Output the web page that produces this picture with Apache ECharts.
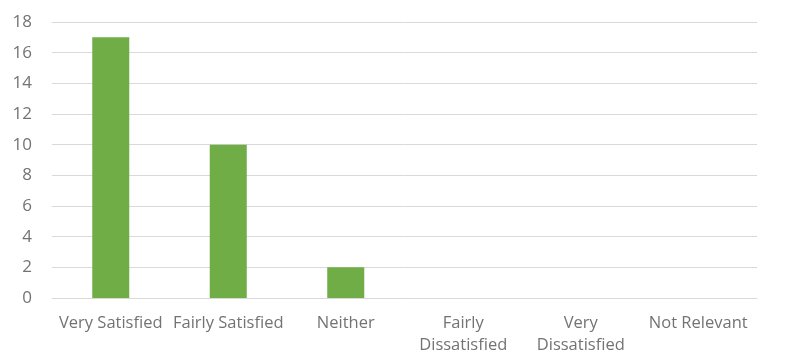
<!DOCTYPE html>
<html lang="en">
  <head>
    <meta charset="UTF-8" />
    <script src="https://cdn.jsdelivr.net/npm/echarts@6/dist/echarts.min.js"></script>
    <title>Satisfaction</title>
  </head>
  <body style="margin: 0">
    <div id="main" style="width: 793px; height: 356px"></div>
    <script>
      var categories = [
        "Very Satisfied",
        "Fairly Satisfied",
        "Neither",
        "Fairly\nDissatisfied",
        "Very\nDissatisfied",
        "Not Relevant",
      ];
      var counts = [17, 10, 2, 0, 0, 0];
      var yTicks = { min: 0, max: 18, interval: 2 };

      var myChart = echarts.init(document.getElementById("main"));
      var option = {
        animation: false,
        grid: { left: 52, right: 36, top: 22, bottom: 58 },
        xAxis: {
          type: "category",
          data: categories,
          axisLine: { lineStyle: { color: "#d9d9d9", width: 1 } },
          axisTick: { show: false },
          axisLabel: {
            color: "#737373",
            fontFamily: "Open Sans",
            fontSize: 16.5,
            lineHeight: 22,
            margin: 14,
            interval: 0,
          },
        },
        yAxis: {
          type: "value",
          min: yTicks.min,
          max: yTicks.max,
          interval: yTicks.interval,
          axisLine: { show: false },
          axisTick: { show: false },
          splitLine: { lineStyle: { color: "#d9d9d9", width: 1 } },
          axisLabel: {
            color: "#737373",
            fontFamily: "Open Sans",
            fontSize: 17,
            margin: 20,
          },
        },
        series: [
          {
            type: "bar",
            data: counts,
            barWidth: "31.5%",
            itemStyle: { color: "#70ad47" },
          },
        ],
      };
      myChart.setOption(option);
    </script>
  </body>
</html>
